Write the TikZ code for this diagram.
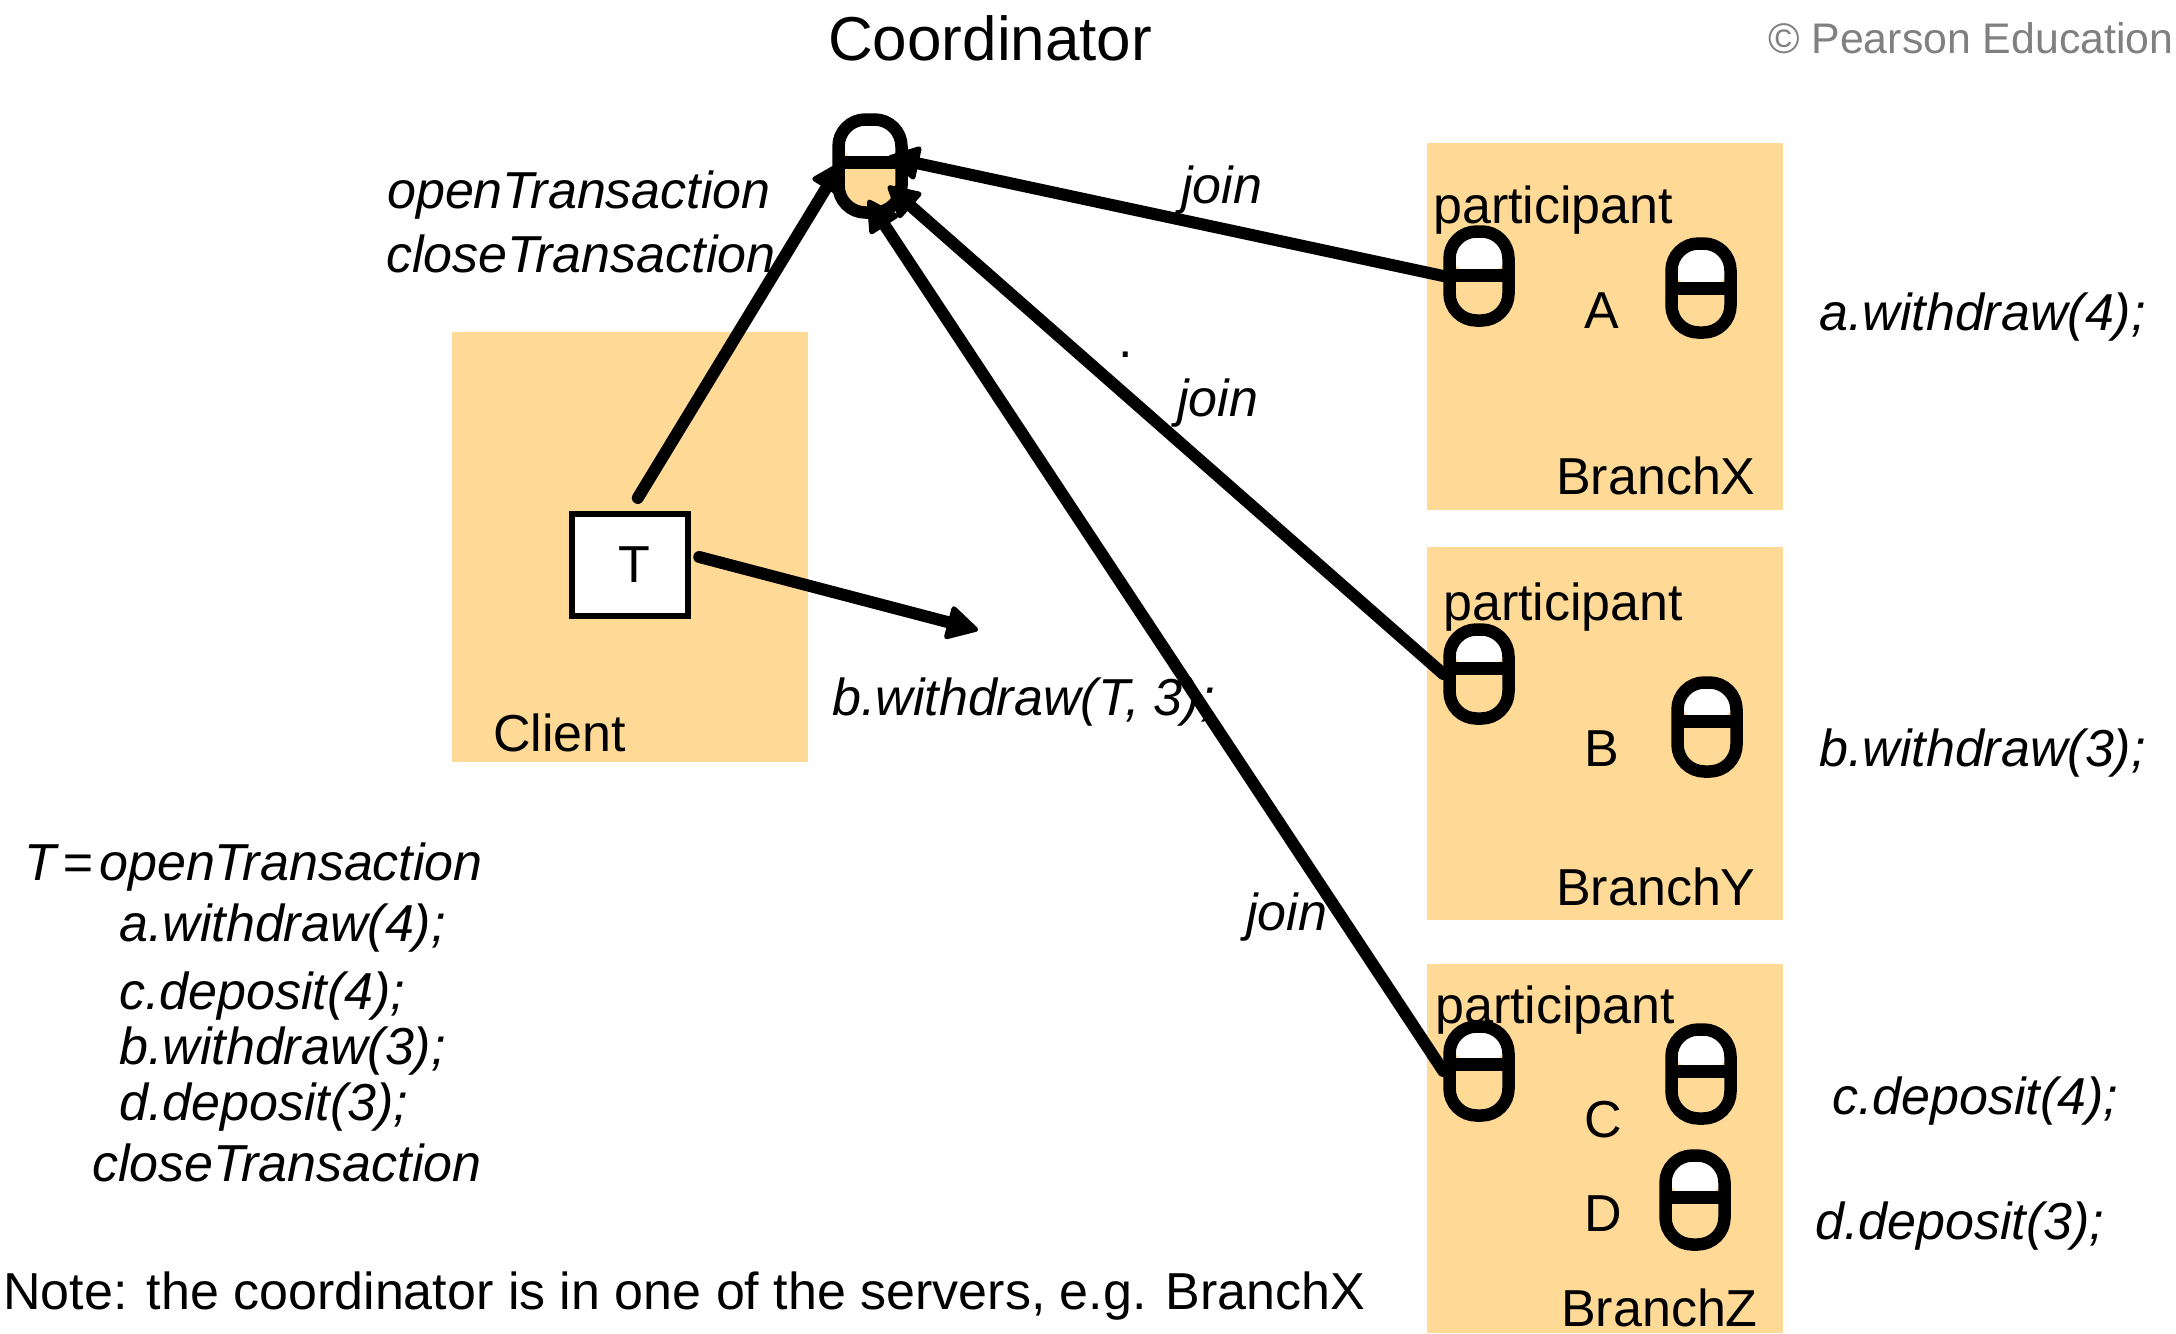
\documentclass[tikz,border=0pt]{standalone}
\usepackage{fontspec}
\setmainfont{Liberation Sans}
\usetikzlibrary{arrows.meta,calc}
\definecolor{zone}{HTML}{FFDA97}
\definecolor{mark}{HTML}{808080}
\tikzset{
  zonebox/.style={fill=zone,draw=none},
  lbl/.style={anchor=base west,inner sep=0pt,font=\fontsize{52}{60}\selectfont},
  ilbl/.style={lbl,font=\fontsize{52}{60}\selectfont\itshape},
  pill/.style={draw=black,line width=12.5pt,fill=zone,rounded corners=27pt,inner sep=0pt,
    minimum width=59pt,minimum height=89pt,
    path picture={
      \fill[white] (path picture bounding box.north west) rectangle
        ($(path picture bounding box.east)+(0,#1)$);
      \draw[black,line width=13pt] ($(path picture bounding box.west)+(0,#1)$) --
        ($(path picture bounding box.east)+(0,#1)$);
    }},
  conn/.style={line width=12pt,line cap=round,
    -{Triangle[length=34pt,width=36pt,line width=5pt,round]}},
}
\begin{document}
\begin{tikzpicture}[x=1pt,y=-1pt]
\useasboundingbox (0,0) rectangle (2176,1333);
% zones
\node[zonebox,minimum width=356pt,minimum height=430pt,inner sep=0pt,anchor=north west] (client) at (452,332) {};
\node[zonebox,minimum width=356pt,minimum height=367pt,inner sep=0pt,anchor=north west] (bx) at (1427,143) {};
\node[zonebox,minimum width=356pt,minimum height=373pt,inner sep=0pt,anchor=north west] (by) at (1427,547) {};
\node[zonebox,minimum width=356pt,minimum height=369pt,inner sep=0pt,anchor=north west] (bz) at (1427,964) {};
% texts
\node[lbl,font=\fontsize{62}{70}\selectfont] (coordlabel) at (828,60) {Coordinator};
\node[lbl,font=\fontsize{42.8}{50}\selectfont,text=mark] (pearson) at (1768,53) {© Pearson Education};
\node[ilbl] (opent) at (387,208) {openTransaction};
\node[ilbl] (closet) at (386,272) {closeTransaction};
\node[lbl] (clientl) at (493,751) {Client};
\node[ilbl] (bwt) at (832,715) {b.withdraw(T, 3);};
\node[ilbl] (j1) at (1181,203) {join};
\node[ilbl] (j2) at (1177,416) {join};
\node[ilbl] (j3) at (1246,930) {join};
\node[lbl] (dot) at (1118,357) {.};
\node[lbl] (p1) at (1433,223) {participant};
\node[lbl] (p2) at (1443,620) {participant};
\node[lbl] (p3) at (1435,1023) {participant};
\node[lbl,anchor=base] (la) at (1602,328) {A};
\node[lbl,anchor=base] (lb) at (1602,766) {B};
\node[lbl,anchor=base] (lc) at (1603,1137) {C};
\node[lbl,anchor=base] (ld) at (1603,1231) {D};
\node[lbl] (nx) at (1556,494) {BranchX};
\node[lbl] (ny) at (1556,905) {BranchY};
\node[lbl] (nz) at (1561,1326) {BranchZ};
\node[ilbl] (ra) at (1819,330) {a.withdraw(4);};
\node[ilbl] (rb) at (1819,766) {b.withdraw(3);};
\node[ilbl] (rc) at (1832,1114) {c.deposit(4);};
\node[ilbl] (rd) at (1815,1239) {d.deposit(3);};
\node[ilbl] (l1) at (24,880) {T\hspace{7pt}=\hspace{6pt}openTransaction};
\node[ilbl] (l2) at (119,941) {a.withdraw(4);};
\node[ilbl] (l3) at (119,1009) {c.deposit(4);};
\node[ilbl] (l4) at (119,1064) {b.withdraw(3);};
\node[ilbl] (l5) at (119,1120) {d.deposit(3);};
\node[ilbl] (l6) at (92,1181) {closeTransaction};
\node[lbl] (note) at (3,1309) {Note: the coordinator is in one of the servers, e.g. BranchX};
% transaction box
\node[draw=black,fill=white,line width=6.5pt,minimum width=116pt,minimum height=102pt,inner sep=0pt,font=\fontsize{52}{60}\selectfont] (T) at (630,565) {\hspace{8pt}T};
% objects
\node[pill=-4,minimum width=63pt,minimum height=93pt] (coord) at (870,166) {};
\node[pill=-1] (pa) at (1479,276) {};
\node[pill=0] (qa) at (1701,288) {};
\node[pill=-6] (pb) at (1479,674) {};
\node[pill=-6] (qb) at (1707,727) {};
\node[pill=-7] (pc) at (1479,1071) {};
\node[pill=-3] (qc) at (1701,1074) {};
\node[pill=-3] (qd) at (1695,1200) {};
% free ends
\coordinate (bwend) at (978,630);
\coordinate (inl) at (842,162);
\coordinate (ina) at (888,157);
\coordinate (inb) at (888,186);
\coordinate (inc) at (868,200);
% connectors
\draw[conn,shorten <=15pt] (T.north) -- (inl);
\draw[conn] ($(T.east)+(8,-8)$) -- (bwend);
\draw[conn] (pa.west) -- (ina);
\draw[conn] (pb.west) -- (inb);
\draw[conn] (pc.west) -- (inc);
\end{tikzpicture}
\end{document}
